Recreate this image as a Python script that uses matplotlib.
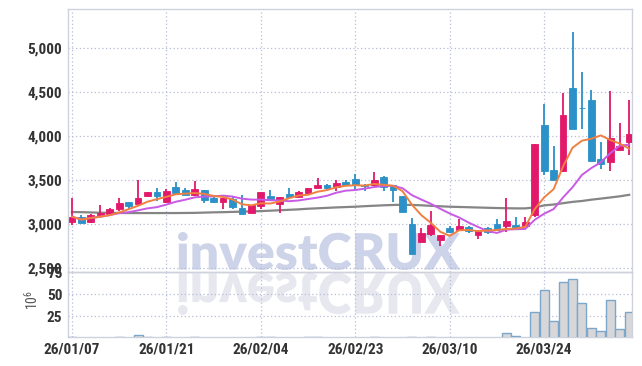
import numpy as np
import pandas as pd
import matplotlib
matplotlib.use("Agg")
import matplotlib.pyplot as plt
from matplotlib.textpath import TextPath
from matplotlib.font_manager import FontProperties
from matplotlib.patches import PathPatch
from matplotlib.transforms import Affine2D

# ---------------- data ----------------
opens = [3026, 3083, 3030, 3105, 3113, 3170, 3249, 3234, 3320, 3362,
         3257, 3426, 3385, 3331, 3385, 3294, 3252, 3290, 3181, 3132,
         3207, 3317, 3234, 3339, 3313, 3358, 3411, 3452, 3422, 3478,
         3520, 3452, 3445, 3543, 3445, 3317, 3000, 2804, 2894, 2827,
         2955, 2932, 2974, 2876, 2962, 3000, 2981, 2992, 2981, 3105,
         4131, 3622, 3603, 4553, 4322, 4414, 3746, 3705, 3848, 3935]
highs = [3302, 3105, 3117, 3215, 3189, 3302, 3255, 3501, 3370, 3407,
         3396, 3478, 3407, 3490, 3390, 3313, 3296, 3313, 3331, 3218,
         3372, 3385, 3315, 3407, 3377, 3418, 3528, 3455, 3501, 3509,
         3573, 3455, 3596, 3545, 3448, 3320, 3068, 2962, 3150, 2880,
         2981, 3057, 2980, 2935, 2966, 3064, 3302, 3087, 3087, 3918,
         4365, 3886, 4497, 5180, 4734, 4523, 3936, 4519, 4150, 4410]
lows = [2992, 3011, 3019, 3094, 3105, 3150, 3177, 3226, 3313, 3264,
        3245, 3331, 3328, 3320, 3245, 3238, 3170, 3177, 3113, 3124,
        3177, 3271, 3124, 3286, 3310, 3331, 3408, 3396, 3377, 3440,
        3396, 3377, 3440, 3377, 3257, 3136, 2658, 2800, 2868, 2748,
        2906, 2928, 2898, 2838, 2895, 2932, 2917, 2950, 2978, 3087,
        3565, 3498, 3600, 4083, 4082, 3714, 3630, 3611, 3845, 3792]
closes = [3087, 3020, 3110, 3128, 3177, 3238, 3207, 3302, 3362, 3320,
          3373, 3351, 3336, 3396, 3275, 3252, 3294, 3196, 3121, 3215,
          3370, 3279, 3313, 3309, 3362, 3415, 3452, 3407, 3471, 3445,
          3445, 3433, 3501, 3422, 3388, 3139, 2661, 2906, 2992, 2876,
          2910, 2977, 2925, 2925, 2913, 2936, 3034, 2955, 3023, 3916,
          3603, 3501, 4244, 4086, 4317, 3716, 3690, 3981, 3886, 4029]
# volume in millions
volumes = [2.2, 1.0, 1.0, 1.0, 1.0, 2.2, 1.0, 3.7, 2.2, 1.0,
           2.2, 1.0, 1.0, 2.2, 1.0, 1.0, 1.0, 1.0, 1.0, 1.0,
           2.2, 2.2, 1.0, 1.0, 1.0, 2.2, 2.2, 1.0, 1.0, 1.0,
           1.0, 1.0, 2.2, 1.0, 1.0, 1.0, 2.2, 1.0, 2.2, 1.0,
           1.0, 1.0, 1.0, 1.0, 1.0, 1.0, 5.9, 2.6, 1.0, 30.6,
           55.3, 19.4, 64.2, 67.6, 40.7, 11.5, 8.2, 44.0, 10.4, 30.6]
# long moving average
ma_long = [3140, 3138, 3135, 3132, 3130, 3129, 3128, 3128, 3128, 3128,
           3128, 3128, 3129, 3130, 3133, 3136, 3138, 3141, 3144, 3147,
           3150, 3155, 3160, 3165, 3170, 3177, 3182, 3187, 3192, 3196,
           3200, 3206, 3211, 3216, 3220, 3222, 3220, 3216, 3210, 3205,
           3200, 3197, 3194, 3191, 3188, 3185, 3183, 3181, 3181, 3192,
           3215, 3225, 3240, 3255, 3265, 3280, 3292, 3305, 3318, 3335]
tick_labels = ["26/01/07", "26/01/21", "26/02/04", "26/02/23", "26/03/10", "26/03/24"]
tick_idx = [0, 10, 20, 30, 40, 50]
price_ticks = [2500, 3000, 3500, 4000, 4500, 5000]
vol_ticks = [25, 50, 75]

# ---------------- style ----------------
UP = "#e2196a"
DOWN = "#2b91c8"
GRID = "#b7bdd8"
SPINE = "#cfd2dc"
TXT = "#333333"
FONT = ["Liberation Sans Narrow", "Roboto Condensed", "Roboto", "DejaVu Sans"]

W, H = 642, 366
fig = plt.figure(figsize=(W / 100, H / 100), dpi=100)
fig.patch.set_facecolor("white")

L, R = 68, 632
ax = fig.add_axes([L / W, (H - 272) / H, (R - L) / W, (272 - 9) / H])
axv = fig.add_axes([L / W, (H - 337) / H, (R - L) / W, (337 - 272) / H], sharex=ax)
for a in (ax, axv):
    a.set_facecolor("none")
    for s in a.spines.values():
        s.set_color(SPINE)
        s.set_linewidth(1.0)
    a.grid(True, color=GRID, linestyle=(0, (1, 2)), linewidth=0.9)
    a.set_axisbelow(True)
    a.tick_params(length=0, colors=TXT)

# watermark (figure-level, behind axes content)
fp = FontProperties(family=["Lato", "DejaVu Sans"], weight="heavy")
tp = TextPath((0, 0), "investCRUX", size=50, prop=fp)
ext = tp.get_extents()
tw, th = ext.x1 - ext.x0, ext.y1 - ext.y0
x0, x1 = 178, 460
tr = (Affine2D().translate(-ext.x0, -ext.y0)
      .scale((x1 - x0) / tw, 38 / th).translate(x0, H - 270)
      .scale(1 / W, 1 / H))
fig.add_artist(PathPatch(tr.transform_path(tp), facecolor="#cdd3e8",
                         edgecolor="none", transform=fig.transFigure, zorder=-5))
trm = (Affine2D().translate(-ext.x0, -ext.y0)
       .scale((x1 - x0) / tw, -42 / th).translate(x0, H - 273)
       .scale(1 / W, 1 / H))
fig.add_artist(PathPatch(trm.transform_path(tp), facecolor="#e7e8ef",
                         edgecolor="none", transform=fig.transFigure, zorder=-5))

# candles
o = np.array(opens, float)
c = np.array(closes, float)
hi = np.array(highs, float)
lo = np.array(lows, float)
x = np.arange(len(c))
colors = [UP if cc >= oo else DOWN for oo, cc in zip(o, c)]
ax.vlines(x, lo, hi, colors=colors, linewidth=1.3, zorder=3)
ax.bar(x, np.abs(c - o), bottom=np.minimum(o, c), width=0.72, color=colors,
       edgecolor=colors, linewidth=0.6, zorder=4)

# moving averages
cs = pd.Series(c)
ma5 = cs.rolling(5, min_periods=1).mean()
ma10 = cs.rolling(10, min_periods=1).mean()
ax.plot(x, ma_long, color="#858585", linewidth=1.6, zorder=2)
ax.plot(x, ma10, color="#c85ae6", linewidth=1.4, zorder=5)
ax.plot(x, ma5, color="#f08040", linewidth=1.4, zorder=6)

ax.set_ylim(2458, 5447)
ax.set_xlim(-0.42, 59.3)
ax.set_yticks(price_ticks)
ax.set_yticklabels([f"{v:,}" for v in price_ticks], family=FONT, fontsize=11,
                   fontweight="bold", color=TXT)
ax.tick_params(axis="y", pad=4)
ax.set_xticks(tick_idx)
ax.tick_params(axis="x", labelbottom=False)

# volume
axv.bar(x, volumes, width=0.96, color="#d7d7d9", edgecolor="#7da6cb",
        linewidth=1.0, zorder=3)
axv.set_ylim(1.8, 75.3)
axv.set_yticks(vol_ticks)
axv.set_yticklabels([str(v) for v in vol_ticks], family=FONT, fontsize=11,
                    fontweight="bold", color=TXT)
axv.tick_params(axis="y", pad=4)
axv.set_xticks(tick_idx)
axv.set_xticklabels(tick_labels, family=FONT, fontsize=11, fontweight="bold",
                    color=TXT)
axv.tick_params(axis="x", pad=4)
fig.text(32 / W, (H - 300) / H, r"$\mathregular{10^6}$", rotation=90,
         ha="center", va="center", fontsize=10, color="#555555", family=FONT)

fig.savefig("out.png", dpi=100)
